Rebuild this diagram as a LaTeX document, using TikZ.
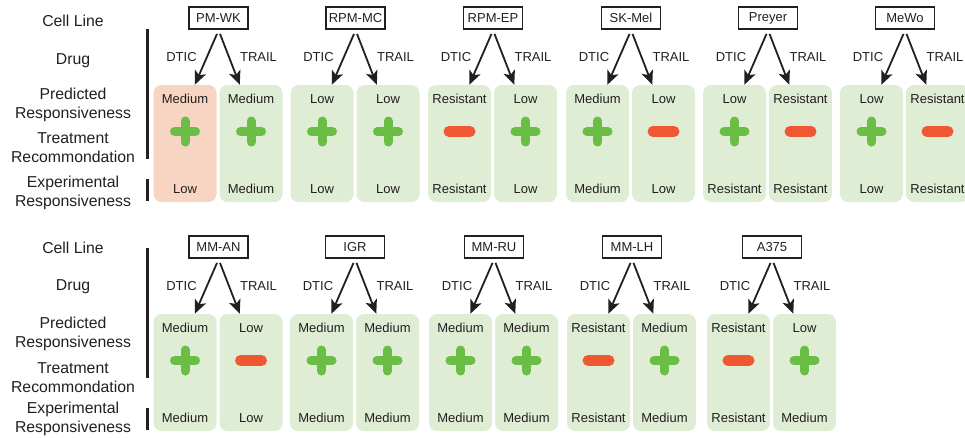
\documentclass[tikz,border=0pt]{standalone}
\usepackage{fontspec}
\setmainfont{Liberation Sans}
\usetikzlibrary{arrows.meta,calc}
\definecolor{boxgreen}{RGB}{222,237,212}
\definecolor{boxsalmon}{RGB}{248,212,194}
\definecolor{plusgreen}{RGB}{106,189,69}
\definecolor{minusred}{RGB}{240,88,52}
\definecolor{ink}{RGB}{35,31,32}
\newcommand\signplus[1]{%
  \draw[plusline] ($(#1.center)+(-10.5,-12)$) -- ++(21,0);
  \draw[plusline] ($(#1.center)+(0,-22.5)$) -- ++(0,21);}
\newcommand\signminus[1]{%
  \draw[minusline] ($(#1.center)+(-10.5,-12)$) -- ++(21,0);}
\tikzset{
  rowlabel/.style={font=\fontsize{15.8}{19}\selectfont, text=ink, align=center, inner sep=0pt},
  celltext/.style={font=\fontsize{13}{15}\selectfont, text=ink, inner sep=0pt},
  cellline/.style={draw=ink, line width=1.8pt, minimum width=59pt, minimum height=22pt,
    inner sep=3pt, font=\fontsize{13}{15}\selectfont, text=ink},
  drugbox/.style={rounded corners=8pt, minimum width=63pt, minimum height=117pt, inner sep=0pt},
  drugarrow/.style={draw=ink, line width=1.8pt, -{Stealth[length=14pt,width=12pt,inset=3.5pt]}},
  plusline/.style={draw=plusgreen, line width=9pt, line cap=round},
  minusline/.style={draw=minusred, line width=11pt, line cap=round},
  bar/.style={draw=ink, line width=3pt},
}
\begin{document}
\begin{tikzpicture}[x=1pt,y=-1pt]
\useasboundingbox (0,0) rectangle (965,437);
% row labels
\foreach \ya/\yb/\yc/\yd/\ye [count=\r] in {20.5/60.5/104.5/147.5/193, 248/287/333.5/377.5/418.5}{
  \node[rowlabel] (cl\r) at (73,\ya) {Cell Line};
  \node[rowlabel] (dr\r) at (73,\yb) {Drug};
  \node[rowlabel] (pr\r) at (73,\yc) {Predicted\\Responsiveness};
  \node[rowlabel] (tr\r) at (73,\yd) {Treatment\\Recommondation};
  \node[rowlabel] (ex\r) at (73,\ye) {Experimental\\Responsiveness};
}
\draw[bar] (147,29) -- (147,159);
\draw[bar] (147,179) -- (147,201);
\draw[bar] (147,248) -- (147,378);
\draw[bar] (147,408) -- (147,430);
% cell line pairs
\foreach \x/\oy/\cl/\a/\as/\ae/\b/\bs/\be/\af [count=\i] in {
  153.5/0/PM-WK/Medium/plus/Low/Medium/plus/Medium/boxsalmon,
  290.5/0/RPM-MC/Low/plus/Low/Low/plus/Low/boxgreen,
  428/0/RPM-EP/Resistant/minus/Resistant/Low/plus/Low/boxgreen,
  566/0/SK-Mel/Medium/plus/Medium/Low/minus/Low/boxgreen,
  703/0/Preyer/Low/plus/Resistant/Resistant/minus/Resistant/boxgreen,
  840/0/MeWo/Low/plus/Low/Resistant/minus/Resistant/boxgreen,
  153.5/229/MM-AN/Medium/plus/Medium/Low/minus/Low/boxgreen,
  290/229/IGR/Medium/plus/Medium/Medium/plus/Medium/boxgreen,
  429/229/MM-RU/Medium/plus/Medium/Medium/plus/Medium/boxgreen,
  567/229/MM-LH/Resistant/minus/Resistant/Medium/plus/Medium/boxgreen,
  707/229/A375/Resistant/minus/Resistant/Low/plus/Medium/boxgreen}{
  \node[cellline] (c\i) at ({\x+65},{18+\oy}) {\cl};
  \node[drugbox, fill=\af] (d\i) at ({\x+31.5},{143.5+\oy}) {};
  \node[drugbox, fill=boxgreen] (t\i) at ({\x+97.5},{143.5+\oy}) {};
  \node[celltext] (ld\i) at ({\x+28},{57+\oy}) {DTIC};
  \node[celltext] (lt\i) at ({\x+105},{57+\oy}) {TRAIL};
  \node[celltext] (dp\i) at ($(d\i.north)+(0,14)$) {\a};
  \node[celltext] (de\i) at ($(d\i.south)+(0,-13)$) {\ae};
  \node[celltext] (tp\i) at ($(t\i.north)+(0,14)$) {\b};
  \node[celltext] (te\i) at ($(t\i.south)+(0,-13)$) {\be};
  \csname sign\as\endcsname{d\i}
  \csname sign\bs\endcsname{t\i}
  \draw[drugarrow] ($(c\i.south)+(-1.5,4)$) -- ($(d\i.north west)+(41.5,0)$);
  \draw[drugarrow] ($(c\i.south)+(1.5,4)$) -- ($(t\i.north west)+(20.5,0)$);
}
\end{tikzpicture}
\end{document}
